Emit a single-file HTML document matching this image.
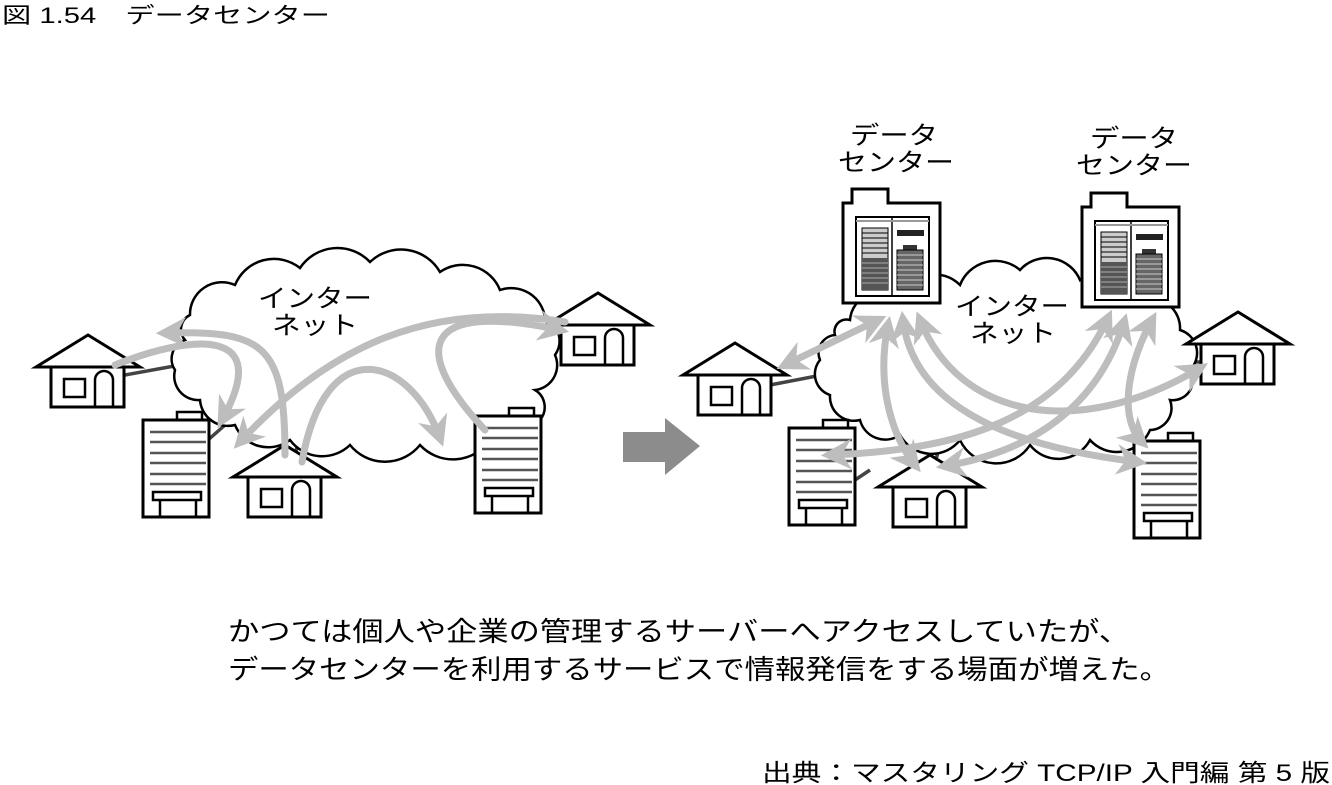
<!DOCTYPE html>
<html><head><meta charset="utf-8"><style>
html,body{margin:0;padding:0;background:#fff;}
svg{display:block;}
text{font-family:"Liberation Sans","Noto Sans CJK JP",sans-serif;fill:#000;}
</style></head><body>
<svg width="1332" height="785" viewBox="0 0 1332 785" xmlns="http://www.w3.org/2000/svg">
<defs>
<marker id="ah" viewBox="0 0 10 10" refX="7" refY="5" markerWidth="4.4" markerHeight="4.4" orient="auto-start-reverse" markerUnits="strokeWidth">
<path d="M0,0 L10,5 L0,10 L3,5 z" fill="#bdbdbd"/></marker>
<g id="house">
<path d="M0,0 L-52,32 L52,32 Z" fill="#fff" stroke="#000" stroke-width="3" stroke-linejoin="miter"/>
<rect x="-37" y="32" width="73" height="40" fill="#fff" stroke="#000" stroke-width="3"/>
<rect x="-24" y="44" width="21" height="18" fill="#fff" stroke="#000" stroke-width="2.5"/>
<path d="M7,72 V45 a9,9 0 0 1 18,0 V72" fill="none" stroke="#000" stroke-width="2.5"/>
</g>
<g id="bldg">
<rect x="34" y="-8" width="25" height="8" fill="#fff" stroke="#000" stroke-width="2.5"/>
<rect x="0" y="0" width="66" height="97" fill="#fff" stroke="#000" stroke-width="3"/>
<g stroke="#555" stroke-width="2.5">
<line x1="7" y1="12" x2="63" y2="12"/><line x1="7" y1="22" x2="63" y2="22"/><line x1="7" y1="33" x2="63" y2="33"/>
<line x1="7" y1="43" x2="63" y2="43"/><line x1="7" y1="54" x2="63" y2="54"/><line x1="7" y1="64" x2="63" y2="64"/></g>
<rect x="10" y="72" width="48" height="8" fill="#fff" stroke="#000" stroke-width="2.5"/>
<path d="M17,97 V80 M53,97 V80" stroke="#000" stroke-width="2.5"/>
</g>
<g id="dc">
<path d="M0,14 H9 V0 H45 V14 H97 V114 H0 Z" fill="#fff" stroke="#000" stroke-width="3"/>
<rect x="13" y="28" width="73" height="79" fill="#fff" stroke="#000" stroke-width="2"/>
<line x1="49" y1="28" x2="49" y2="107" stroke="#000" stroke-width="1.5"/>
<line x1="13" y1="32" x2="86" y2="32" stroke="#999" stroke-width="2"/>
<rect x="19" y="39" width="26" height="62" fill="#ccc" stroke="#000" stroke-width="1"/>
<g stroke="#000" stroke-width="1"><line x1="19" y1="44" x2="45" y2="44"/><line x1="19" y1="49" x2="45" y2="49"/><line x1="19" y1="54" x2="45" y2="54"/><line x1="19" y1="59" x2="45" y2="59"/><line x1="19" y1="64" x2="45" y2="64"/></g>
<rect x="19" y="69" width="26" height="32" fill="#555"/>
<g stroke="#aaa" stroke-width="1"><line x1="19" y1="74" x2="45" y2="74"/><line x1="19" y1="79" x2="45" y2="79"/><line x1="19" y1="84" x2="45" y2="84"/><line x1="19" y1="89" x2="45" y2="89"/><line x1="19" y1="94" x2="45" y2="94"/></g>
<rect x="54" y="41" width="27" height="6" fill="#222"/>
<rect x="60" y="56" width="14" height="5" fill="#333"/>
<rect x="54" y="61" width="26" height="40" fill="#666" stroke="#000" stroke-width="1"/>
<g stroke="#ccc" stroke-width="1"><line x1="54" y1="66" x2="80" y2="66"/><line x1="54" y1="71" x2="80" y2="71"/><line x1="54" y1="76" x2="80" y2="76"/><line x1="54" y1="81" x2="80" y2="81"/><line x1="54" y1="86" x2="80" y2="86"/><line x1="54" y1="91" x2="80" y2="91"/><line x1="54" y1="96" x2="80" y2="96"/></g>
</g>
</defs>

<text x="2" y="23" font-size="22" textLength="328" lengthAdjust="spacingAndGlyphs">図 1.54　データセンター</text>

<!-- LEFT -->
<g stroke="#444" stroke-width="3.5">
<line x1="125" y1="375" x2="180" y2="365"/>
<line x1="208" y1="440" x2="225" y2="425"/>
<line x1="295" y1="455" x2="300" y2="435"/>
<line x1="475" y1="425" x2="455" y2="410"/>
<line x1="558" y1="345" x2="540" y2="340"/>
</g>
<path d="M190,315 A32,32 0 0 1 235,285 A42,42 0 0 1 300,268 A45,45 0 0 1 370,262 A45,45 0 0 1 440,272 A40,40 0 0 1 500,290 A34,34 0 0 1 545,318 A25,25 0 0 1 555,355 A25,25 0 0 1 535,390 A20,20 0 0 1 540,420 A34,34 0 0 1 490,440 A45,45 0 0 1 420,445 A45,45 0 0 1 350,445 A40,40 0 0 1 290,440 A36,36 0 0 1 235,425 A28,28 0 0 1 200,400 A24,24 0 0 1 175,370 A20,20 0 0 1 185,340 A16,16 0 0 1 190,315 Z" fill="#fff" stroke="#000" stroke-width="2.5"/>
<text x="258" y="307" font-size="25" textLength="114" lengthAdjust="spacingAndGlyphs">インター</text>
<text x="272" y="334" font-size="25" textLength="86" lengthAdjust="spacingAndGlyphs">ネット</text>
<use href="#house" x="88" y="335"/>
<use href="#house" x="598" y="293"/>
<use href="#bldg" x="143" y="420"/>
<use href="#bldg" x="475" y="416"/>
<use href="#house" x="285" y="445"/>
<g fill="none" stroke="#bdbdbd" stroke-width="7" stroke-linecap="round" marker-end="url(#ah)">
<path d="M115,365 C190,335 275,325 222,420"/>
<path d="M285,455 C285,345 265,330 165,333"/>
<path d="M565,322 C430,300 330,345 240,442"/>
<path d="M302,462 C325,330 410,355 440,438"/>
<path d="M485,430 C410,350 420,300 560,330"/>
</g>

<!-- block arrow -->
<path d="M623,432 H665 V418 L700,446 L665,475 V462 H623 Z" fill="#8c8c8c"/>

<!-- RIGHT -->
<text x="850" y="144" font-size="25" textLength="88" lengthAdjust="spacingAndGlyphs">データ</text>
<text x="838" y="171" font-size="25" textLength="116" lengthAdjust="spacingAndGlyphs">センター</text>
<text x="1090" y="147" font-size="25" textLength="88" lengthAdjust="spacingAndGlyphs">データ</text>
<text x="1076" y="174" font-size="25" textLength="116" lengthAdjust="spacingAndGlyphs">センター</text>
<g stroke="#444" stroke-width="3.5">
<line x1="770" y1="385" x2="822" y2="375"/>
<line x1="855" y1="480" x2="870" y2="470"/>
<line x1="935" y1="463" x2="940" y2="445"/>
<line x1="1160" y1="460" x2="1105" y2="420"/>
<line x1="1203" y1="362" x2="1183" y2="362"/>
</g>
<path d="M850,320 A30,30 0 0 1 900,300 A36,36 0 0 1 960,285 A38,38 0 0 1 1020,270 A36,36 0 0 1 1080,280 A36,36 0 0 1 1140,300 A30,30 0 0 1 1180,330 A24,24 0 0 1 1190,370 A20,20 0 0 1 1170,400 A22,22 0 0 1 1150,430 A36,36 0 0 1 1090,440 A36,36 0 0 1 1030,445 A40,40 0 0 1 960,440 A36,36 0 0 1 900,435 A26,26 0 0 1 860,420 A24,24 0 0 1 830,395 A22,22 0 0 1 820,360 A18,18 0 0 1 835,335 A12,12 0 0 1 850,320 Z" fill="#fff" stroke="#000" stroke-width="2.5"/>
<use href="#dc" x="843" y="189"/>
<use href="#dc" x="1082" y="193"/>
<text x="955" y="315" font-size="25" textLength="114" lengthAdjust="spacingAndGlyphs">インター</text>
<text x="970" y="342" font-size="25" textLength="86" lengthAdjust="spacingAndGlyphs">ネット</text>
<use href="#house" x="735" y="343"/>
<use href="#house" x="1238" y="312"/>
<use href="#bldg" x="789" y="428"/>
<use href="#house" x="930" y="455"/>
<use href="#bldg" x="1134" y="441"/>
<g fill="none" stroke="#bdbdbd" stroke-width="7" stroke-linecap="round" marker-end="url(#ah)" marker-start="url(#ah)">
<path d="M878,320 L785,365"/>
<path d="M888,325 C875,390 895,440 915,465"/>
<path d="M903,320 C915,420 1040,450 1138,462"/>
<path d="M920,320 C960,420 1080,440 1200,368"/>
<path d="M1108,318 C1060,420 960,450 830,455"/>
<path d="M1124,322 C1100,400 1040,450 945,466"/>
<path d="M1152,320 C1125,370 1120,420 1142,442"/>
</g>

<text x="228" y="641" font-size="27" textLength="902" lengthAdjust="spacingAndGlyphs">かつては個人や企業の管理するサーバーへアクセスしていたが、</text>
<text x="228" y="679" font-size="27" textLength="942" lengthAdjust="spacingAndGlyphs">データセンターを利用するサービスで情報発信をする場面が増えた。</text>
<text x="762" y="781" font-size="24" textLength="568" lengthAdjust="spacingAndGlyphs">出典：マスタリング TCP/IP 入門編 第 5 版</text>
</svg>
</body></html>
